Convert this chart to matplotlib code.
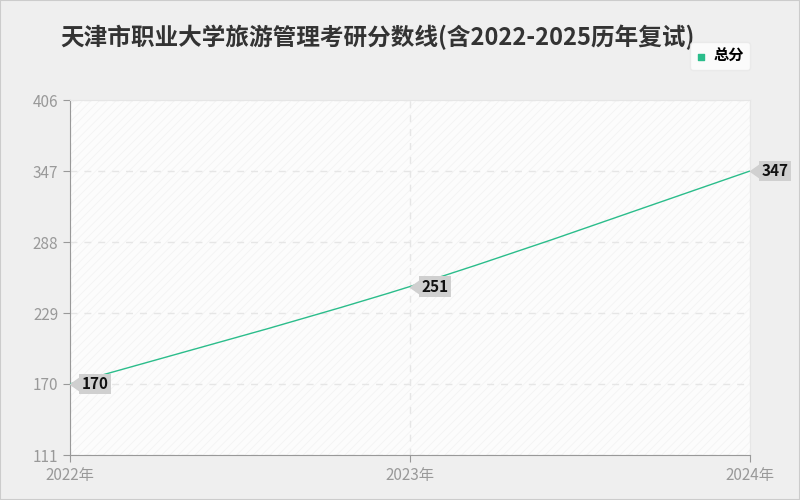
import numpy as np
import matplotlib.pyplot as plt
from matplotlib.path import Path
from matplotlib.patches import PathPatch, Rectangle

plt.rcParams['font.family'] = ['Noto Sans CJK SC', 'DejaVu Sans']
plt.rcParams['hatch.linewidth'] = 0.6

years = ['2022年', '2023年', '2024年']
scores = [170, 251, 347]
yticks = [111, 170, 229, 288, 347, 406]
series_name = '总分'
title = '天津市职业大学旅游管理考研分数线(含2022-2025历年复试)'

line_color = '#2bbd8b'
tick_color = '#999999'

fig = plt.figure(figsize=(8, 5), dpi=100, facecolor='#efefef')
ax = fig.add_axes([70 / 800, 45 / 500, 680 / 800, 355 / 500])
ax.set_facecolor('#fcfcfc')

x = np.arange(len(years))
ax.set_xlim(0, len(years) - 1)
ax.set_ylim(yticks[0], yticks[-1])

# faint diagonal hatch in plot area
ax.add_patch(Rectangle((0, 0), 1, 1, transform=ax.transAxes, facecolor='none',
                       edgecolor='#f3f3f3', hatch='////', linewidth=0, zorder=0))

# smooth line through points (Catmull-Rom style bezier)
verts = [(x[0], scores[0])]
codes = [Path.MOVETO]
pts = list(zip(x, scores))
for i in range(len(pts) - 1):
    p0 = pts[i - 1] if i > 0 else pts[i]
    p1, p2 = pts[i], pts[i + 1]
    p3 = pts[i + 2] if i + 2 < len(pts) else pts[i + 1]
    c1 = (p1[0] + (p2[0] - p0[0]) / 6, p1[1] + (p2[1] - p0[1]) / 6)
    c2 = (p2[0] - (p3[0] - p1[0]) / 6, p2[1] - (p3[1] - p1[1]) / 6)
    verts += [c1, c2, p2]
    codes += [Path.CURVE4] * 3
ax.add_patch(PathPatch(Path(verts, codes), facecolor='none', edgecolor=line_color,
                       linewidth=1, zorder=3, clip_on=False))

# value labels: pointer with tip at the data point, then a grey box
pointer = Path([(0, 0), (1, 0.7), (1, -0.7), (0, 0)],
               [Path.MOVETO, Path.LINETO, Path.LINETO, Path.CLOSEPOLY])
for xi, v in zip(x, scores):
    ax.plot(xi, v, marker=pointer, color='#d0d0d0', markersize=14, zorder=4, clip_on=False)
    ax.annotate(str(v), (xi, v), xytext=(8.3, 0), textcoords='offset points',
                va='center', ha='left', fontsize=11, fontweight='bold', color='#111111',
                bbox=dict(boxstyle='square,pad=0.15', facecolor='#d0d0d0', edgecolor='none'),
                zorder=5, annotation_clip=False)

ax.set_xticks(x)
ax.set_xticklabels(years)
ax.set_yticks(yticks)
ax.tick_params(colors=tick_color, labelsize=11, length=5)
for lbl in ax.get_xticklabels() + ax.get_yticklabels():
    lbl.set_color(tick_color)

ax.grid(True, linestyle=(0, (5, 5)), color='#e6e6e6', linewidth=1)
ax.set_axisbelow(True)
for side in ['top', 'right']:
    ax.spines[side].set_color('#e6e6e6')
for side in ['left', 'bottom']:
    ax.spines[side].set_color('#999999')

fig.text(378 / 800, 1 - 37 / 500, title, ha='center', va='center',
         fontsize=17, fontweight='bold', color='#333333')

# legend
h = ax.scatter([], [], marker='s', color=line_color, s=14)
leg = fig.legend([h], [series_name], loc='center', bbox_to_anchor=(720 / 800, 1 - 56 / 500),
                 frameon=True, fancybox=True, fontsize=11, handlelength=0.6,
                 handletextpad=0.5, borderpad=0.4)
leg.get_frame().set_facecolor('white')
leg.get_frame().set_edgecolor('#e8e8e8')
for t in leg.get_texts():
    t.set_fontweight('bold')

fig.patches.append(Rectangle((0, 0), 1, 1, transform=fig.transFigure, fill=False,
                             edgecolor='#cccccc', linewidth=1.5))

fig.savefig('out.png', dpi=100, facecolor=fig.get_facecolor())
